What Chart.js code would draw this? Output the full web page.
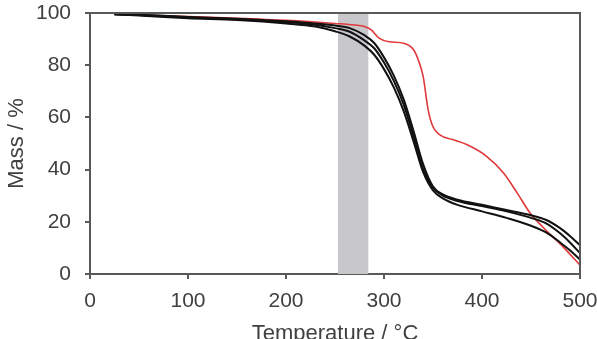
<!DOCTYPE html>
<html>
<head>
<meta charset="utf-8">
<script src="https://cdn.jsdelivr.net/npm/chart.js@4/dist/chart.umd.min.js"></script>
<style>
html,body{margin:0;padding:0;background:#fff;}
#wrap{width:597px;height:339px;position:relative;}
</style>
</head>
<body>
<div id="wrap"><canvas id="c" width="597" height="339"></canvas></div>
<script>
// Temperature (°C) sample points
const tempBlack = [25, 50, 100, 150, 200, 230, 250, 265, 280, 290, 300, 310, 320, 330, 340, 350, 360, 375, 400, 425, 450, 465, 480, 490, 500];
const massBlackA = [99.5, 99.3, 98.5, 97.8, 96.8, 96.0, 95.2, 94.2, 91.5, 88.5, 83, 76, 67, 55, 42, 33.5, 30.5, 28.5, 26.5, 24.5, 22.5, 20.8, 17.5, 14.5, 11];
const massBlackB = [99.5, 99.2, 98.3, 97.6, 96.5, 95.5, 94.2, 92.8, 89.5, 86.5, 81, 74, 65, 53, 40, 33, 30, 28, 26, 24, 21.5, 19.5, 15.5, 12, 8];
const massBlackC = [99.5, 99.0, 98.0, 97.3, 96.0, 94.8, 93.0, 91.0, 87.5, 84, 78.5, 71.5, 62.5, 51, 39, 32, 29, 26.5, 24, 21.5, 18.5, 16, 12, 9, 5.5];
const tempRed = [25, 50, 100, 150, 200, 250, 270, 280, 287, 295, 305, 320, 330, 335, 340, 345, 350, 357, 370, 385, 405, 422, 436, 449, 462, 483, 500];
const massRed = [99.5, 99.2, 98.6, 98, 97.2, 96, 95.4, 94.8, 93.5, 90.4, 89, 88.4, 86, 82, 75.6, 63, 56.4, 53.3, 51.5, 49.5, 45, 38.7, 31, 23.4, 18, 10.3, 3.4];
// shaded temperature window
const bandRange = [253, 284];
const xTicks = [0, 100, 200, 300, 400, 500];
const yTicks = [0, 20, 40, 60, 80, 100];

const toXY = (xs, ys) => xs.map((x, i) => ({x: x, y: ys[i]}));

const FONT = {family: "'Liberation Sans', Arial, sans-serif", size: 21};
const TFONT = {family: "'Liberation Sans', Arial, sans-serif", size: 22};
const TEXT = '#404040';
const AXIS = '#595959';

const bandPlugin = {
  id: 'band',
  beforeDatasetsDraw(chart) {
    const {ctx, chartArea, scales} = chart;
    const x0 = scales.x.getPixelForValue(bandRange[0]);
    const x1 = scales.x.getPixelForValue(bandRange[1]);
    ctx.save();
    ctx.fillStyle = '#c8c8cc';
    ctx.fillRect(x0, chartArea.top, x1 - x0, chartArea.bottom - chartArea.top);
    ctx.restore();
  },
  afterDraw(chart) {
    const {ctx, chartArea} = chart;
    ctx.save();
    ctx.strokeStyle = AXIS;
    ctx.lineWidth = 2;
    ctx.beginPath();
    ctx.moveTo(chartArea.left, chartArea.top);
    ctx.lineTo(chartArea.right, chartArea.top);
    ctx.lineTo(chartArea.right, chartArea.bottom);
    ctx.stroke();
    ctx.restore();
  }
};

const blackStyle = {borderColor: '#111', borderWidth: 2, pointRadius: 0, cubicInterpolationMode: 'monotone', fill: false};

new Chart(document.getElementById('c'), {
  type: 'line',
  data: {
    datasets: [
      Object.assign({label: 'A', data: toXY(tempBlack, massBlackA)}, blackStyle),
      Object.assign({label: 'B', data: toXY(tempBlack, massBlackB)}, blackStyle),
      Object.assign({label: 'C', data: toXY(tempBlack, massBlackC)}, blackStyle),
      {label: 'Red', data: toXY(tempRed, massRed), borderColor: '#e0393b', borderWidth: 1.6, pointRadius: 0, cubicInterpolationMode: 'monotone', fill: false}
    ]
  },
  options: {
    responsive: false,
    animation: false,
    devicePixelRatio: 1,
    layout: {padding: {top: 13, right: 17, left: 0, bottom: 0}},
    plugins: {legend: {display: false}, tooltip: {enabled: false}},
    scales: {
      x: {
        type: 'linear', min: 0, max: 500,
        afterBuildTicks: s => { s.ticks = xTicks.map(v => ({value: v})); },
        afterFit: s => { s.height = 65; s.paddingLeft = 0; s.paddingRight = 0; },
        ticks: {font: FONT, color: TEXT, padding: 10, maxRotation: 0},
        grid: {display: true, drawOnChartArea: false, drawTicks: true, tickLength: 5, color: AXIS, lineWidth: 2},
        border: {display: true, color: AXIS, width: 2},
        title: {display: true, text: 'Temperature / °C', font: TFONT, color: TEXT, padding: {top: 0, bottom: -8}}
      },
      y: {
        type: 'linear', min: 0, max: 100,
        afterBuildTicks: s => { s.ticks = yTicks.map(v => ({value: v})); },
        afterFit: s => { s.width = 90; s.paddingTop = 0; s.paddingBottom = 0; },
        ticks: {font: FONT, color: TEXT, padding: 14},
        grid: {display: true, drawOnChartArea: false, drawTicks: true, tickLength: 5, color: AXIS, lineWidth: 2},
        border: {display: true, color: AXIS, width: 2},
        title: {display: true, text: 'Mass / %', font: TFONT, color: TEXT, padding: {top: 4, bottom: 4}}
      }
    }
  },
  plugins: [bandPlugin]
});
</script>
</body>
</html>
